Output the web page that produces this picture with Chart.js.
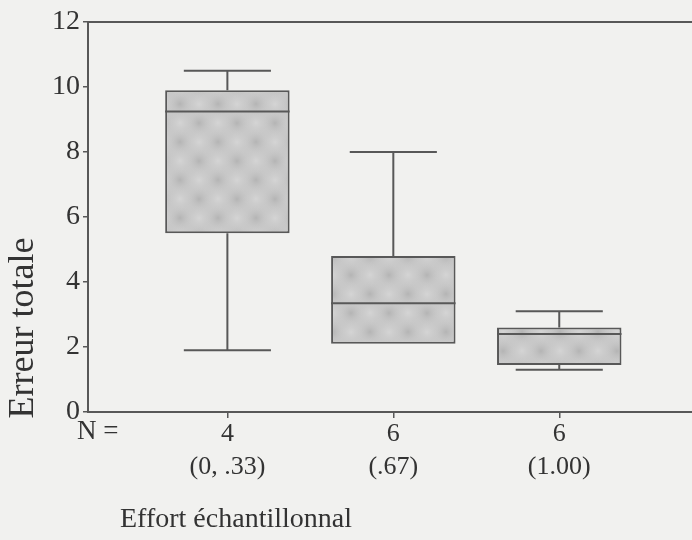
<!DOCTYPE html>
<html>
<head>
<meta charset="utf-8">
<script src="https://cdn.jsdelivr.net/npm/chart.js@4.4.0/dist/chart.umd.min.js"></script>
<style>
html, body { margin: 0; padding: 0; background: #f1f1ef; }
#wrap { width: 692px; height: 540px; }
</style>
</head>
<body>
<div id="wrap"><canvas id="chart"></canvas></div>
<script>
// data
var groups = ["(0, .33)", "(.67)", "(1.00)"];
var counts = [4, 6, 6];
var whiskerLow = [1.9, 2.1, 1.3];
var q1 = [5.5, 2.1, 1.45];
var medians = [9.25, 3.35, 2.4];
var q3 = [9.9, 4.8, 2.6];
var whiskerHigh = [10.5, 8.0, 3.1];
var yTicks = [0, 2, 4, 6, 8, 10, 12];

var serif = "'Liberation Serif', 'Times New Roman', serif";
var ink = "#585858";

// soft blotchy grey like the printed screen
function makePattern() {
    var c = document.createElement("canvas");
    c.width = 38; c.height = 38;
    var g = c.getContext("2d");
    g.fillStyle = "#c8c8c8";
    g.fillRect(0, 0, 38, 38);
    var spots = [[9, 9, "rgba(178,178,178,0.9)"], [28, 28, "rgba(178,178,178,0.9)"],
                 [28, 9, "rgba(214,214,214,0.9)"], [9, 28, "rgba(214,214,214,0.9)"]];
    spots.forEach(function (s) {
        [[0, 0], [38, 0], [0, 38], [-38, 0], [0, -38]].forEach(function (o) {
            var x = s[0] + o[0], y = s[1] + o[1];
            var r = g.createRadialGradient(x, y, 0, x, y, 13);
            r.addColorStop(0, s[2]);
            r.addColorStop(1, "rgba(200,200,200,0)");
            g.fillStyle = r;
            g.fillRect(x - 14, y - 14, 28, 28);
        });
    });
    return g.createPattern(c, "repeat");
}

var boxData = q1.map(function (v, i) { return { x: i, y: [v, q3[i]] }; });

// whiskers, caps and medians drawn on top of the floating bars
var whiskers = {
    id: "whiskers",
    afterDatasetsDraw: function (chart) {
        var ctx = chart.ctx;
        var y = chart.scales.y;
        var meta = chart.getDatasetMeta(0);
        ctx.save();
        ctx.strokeStyle = ink;
        ctx.lineWidth = 2;
        meta.data.forEach(function (bar, i) {
            var cx = bar.x, half = bar.width / 2, cap = bar.width * 0.35;
            ctx.beginPath();
            ctx.moveTo(cx, y.getPixelForValue(q3[i]));
            ctx.lineTo(cx, y.getPixelForValue(whiskerHigh[i]));
            ctx.moveTo(cx - cap, y.getPixelForValue(whiskerHigh[i]));
            ctx.lineTo(cx + cap, y.getPixelForValue(whiskerHigh[i]));
            if (whiskerLow[i] < q1[i]) {
                ctx.moveTo(cx, y.getPixelForValue(q1[i]));
                ctx.lineTo(cx, y.getPixelForValue(whiskerLow[i]));
                ctx.moveTo(cx - cap, y.getPixelForValue(whiskerLow[i]));
                ctx.lineTo(cx + cap, y.getPixelForValue(whiskerLow[i]));
            }
            ctx.moveTo(cx - half, y.getPixelForValue(medians[i]));
            ctx.lineTo(cx + half, y.getPixelForValue(medians[i]));
            ctx.stroke();
        });
        ctx.restore();
    }
};

// free text: "N =", axis titles
var labels = {
    id: "labels",
    afterDraw: function (chart) {
        var ctx = chart.ctx;
        ctx.save();
        ctx.fillStyle = "#333";
        ctx.textBaseline = "middle";
        ctx.font = "27px " + serif;
        ctx.textAlign = "left";
        ctx.fillText("N =", 77, 432);
        ctx.font = "28px " + serif;
        ctx.fillText("Effort échantillonnal", 120, 520);
        ctx.translate(24, 328);
        ctx.rotate(-Math.PI / 2);
        ctx.textAlign = "center";
        ctx.font = "36px " + serif;
        ctx.fillText("Erreur totale", 0, 0);
        ctx.restore();
    }
};

new Chart(document.getElementById("chart"), {
    type: "bar",
    data: {
        datasets: [{
            data: boxData,
            backgroundColor: makePattern(),
            borderColor: ink,
            borderWidth: 2,
            borderSkipped: false,
            barPercentage: 0.75,
            categoryPercentage: 1
        }]
    },
    options: {
        responsive: true,
        maintainAspectRatio: false,
        animation: false,
        layout: { padding: { top: 14, right: 0, left: 49, bottom: 57 } },
        plugins: { legend: { display: false }, tooltip: { enabled: false } },
        scales: {
            x: {
                type: "linear",
                min: -0.84,
                max: 2.8,
                offset: false,
                afterBuildTicks: function (axis) {
                    axis.ticks = counts.map(function (c, i) { return { value: i }; });
                },
                ticks: {
                    callback: function (v) { return [String(counts[v]), groups[v]]; },
                    font: { family: serif, size: 26, lineHeight: 1.25 },
                    color: "#333",
                    maxRotation: 0,
                    autoSkip: false,
                    padding: 0
                },
                grid: { drawOnChartArea: false, offset: false, tickLength: 6, color: ink, lineWidth: 1.5 },
                border: { color: ink, width: 2 }
            },
            xTop: {
                type: "linear",
                axis: "x",
                position: "top",
                min: -0.84,
                max: 2.8,
                offset: false,
                ticks: { display: false },
                grid: { display: false },
                border: { color: ink, width: 2 }
            },
            y: {
                min: 0,
                max: 12,
                afterBuildTicks: function (axis) {
                    axis.ticks = yTicks.map(function (v) { return { value: v }; });
                },
                ticks: {
                    font: { family: serif, size: 28 },
                    color: "#333",
                    padding: 3
                },
                grid: { drawOnChartArea: false, tickLength: 5, color: ink, lineWidth: 1.5 },
                border: { color: ink, width: 2 }
            }
        }
    },
    plugins: [whiskers, labels]
});
</script>
</body>
</html>
